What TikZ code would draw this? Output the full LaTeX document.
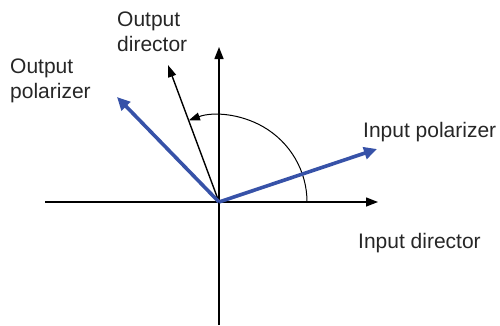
\documentclass[tikz,border=0pt]{standalone}
\usepackage{fontspec}
\setmainfont{Liberation Sans}
\usetikzlibrary{arrows.meta}
\definecolor{polblue}{RGB}{55,82,168}
\tikzset{
  axis/.style={line width=1.4pt,-{Triangle[length=12pt,width=9pt]}},
  dirline/.style={line width=1.4pt,-{Triangle[length=12pt,width=8pt]}},
  polline/.style={polblue,line width=3.6pt,-{Triangle[length=13pt,width=12pt]}},
  lbl/.style={inner sep=0pt,align=left,font=\fontsize{21}{25}\selectfont,text=black!85}
}
\begin{document}
\begin{tikzpicture}[x=1pt,y=-1pt]
\useasboundingbox (0,0) rectangle (500,325);
\coordinate (O) at (219,202);
\coordinate (L) at (45,202);
\coordinate (R) at (378,202);
\coordinate (B) at (219,325);
\coordinate (T) at (219,47);
\coordinate (OD) at (168,65);
\coordinate (OP) at (117,97);
\coordinate (IP) at (377,149);
\coordinate (A0) at (307,202);
\draw[axis] (L) -- (R);
\draw[axis] (B) -- (T);
\draw[dirline] (O) -- (OD);
\draw[line width=1pt,-{Triangle[length=11pt,width=8pt]}] (A0) arc[start angle=0,end angle=-110,x radius=88,y radius=87];
\draw[polline] (O) -- (OP);
\draw[polline] (O) -- (IP);
\node[lbl,anchor=north west] (odl) at (117,12) {Output\\director};
\node[lbl,anchor=north west] (opl) at (10,59) {Output\\polarizer};
\node[lbl,anchor=north west] (ipl) at (363,122) {Input polarizer};
\node[lbl,anchor=north west] (idl) at (358,233) {Input director};
\end{tikzpicture}
\end{document}
